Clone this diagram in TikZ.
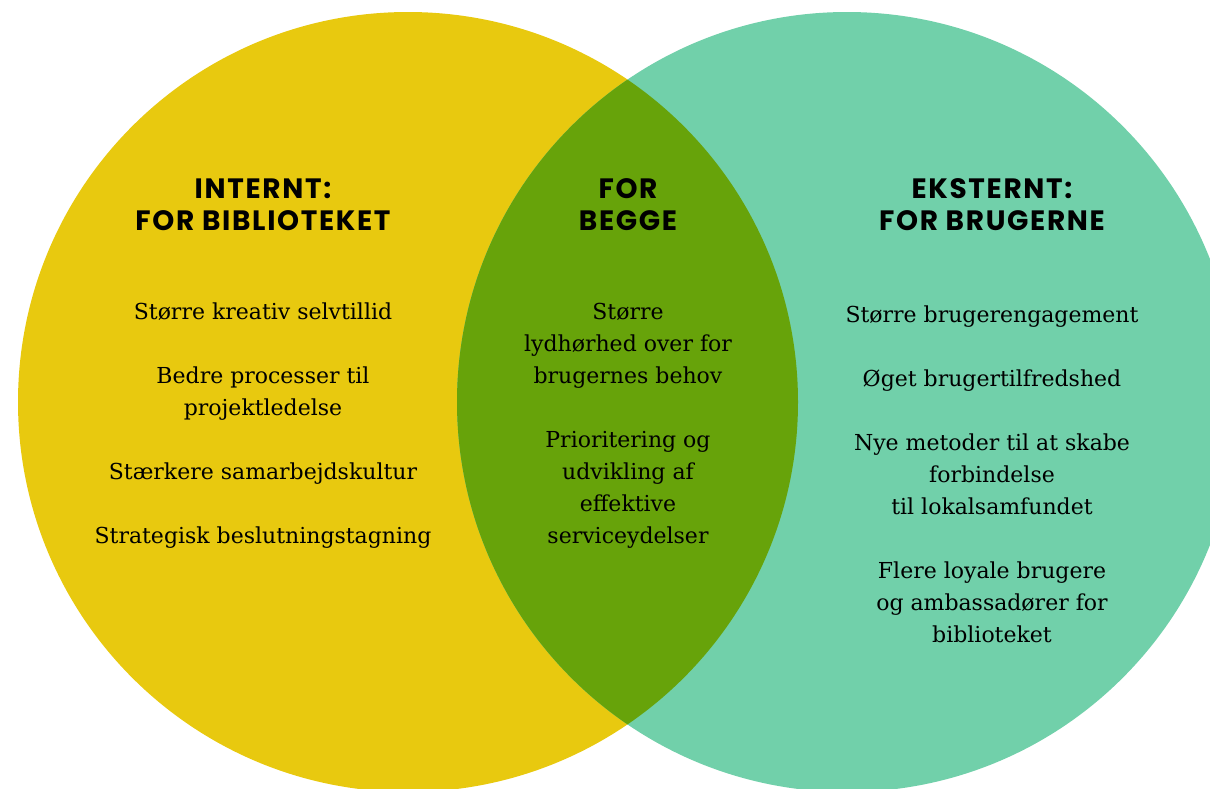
\documentclass[tikz,border=0pt]{standalone}
\usepackage{fontspec}
\setmainfont{DejaVu Serif}
\newfontfamily\headfont[LetterSpace=6]{Poppins}
\usepackage{tikz}
\usetikzlibrary{positioning}
\definecolor{bibyellow}{HTML}{E8C90F}
\definecolor{brugteal}{HTML}{71D0AA}
\definecolor{beggegreen}{HTML}{67A30A}
\tikzstyle{heading} = [align=center, font=\headfont\bfseries\fontsize{28}{32}\selectfont]
\tikzstyle{itemtext} = [align=center, font=\fontsize{22}{32}\selectfont]

\begin{document}
\begin{tikzpicture}[x=1pt,y=-1pt]
\useasboundingbox (0,0) rectangle (1210,788);
% the two circles and their overlap
\coordinate (lc) at (408,402);
\coordinate (rc) at (847,402);
\fill[bibyellow] (lc) circle[radius=390];
\fill[brugteal] (rc) circle[radius=390];
\begin{scope}
  \clip (lc) circle[radius=390];
  \fill[beggegreen] (rc) circle[radius=390];
\end{scope}

% headings
\node[heading] (inthead) at (263,205) {INTERNT:\\FOR BIBLIOTEKET};
\node[heading] (beghead) at (628,205) {FOR\\BEGGE};
\node[heading] (ekshead) at (992,205) {EKSTERNT:\\FOR BRUGERNE};

% lists
\node[itemtext] (intlist) at (263,426) {Større kreativ selvtillid\\[32pt]
  Bedre processer til\\projektledelse\\[32pt]
  Stærkere samarbejdskultur\\[32pt]
  Strategisk beslutningstagning};
\node[itemtext] (beglist) at (628,426) {Større\\lydhørhed over for\\brugernes behov\\[32pt]
  Prioritering og\\udvikling af\\effektive\\serviceydelser};
\node[itemtext] (ekslist) at (992,474) {Større brugerengagement\\[32pt]
  Øget brugertilfredshed\\[32pt]
  Nye metoder til at skabe\\forbindelse\\til lokalsamfundet\\[32pt]
  Flere loyale brugere\\og ambassadører for\\biblioteket};
\end{tikzpicture}
\end{document}
